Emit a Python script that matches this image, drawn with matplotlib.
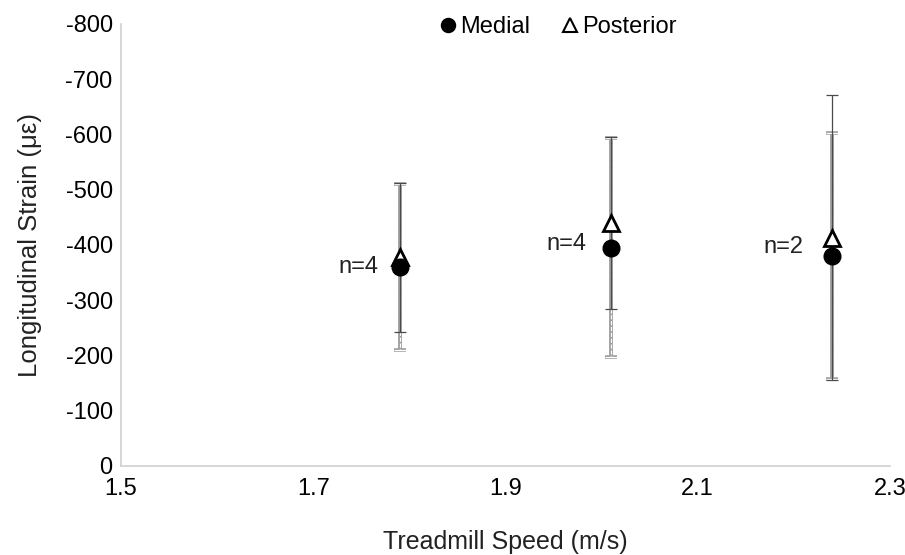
import matplotlib
matplotlib.use("Agg")
import matplotlib.pyplot as plt

plt.rcParams["font.family"] = ["Liberation Sans", "DejaVu Sans"]
plt.rcParams["axes.unicode_minus"] = False

speed = [1.79, 2.01, 2.24]
n_labels = ["n=4", "n=4", "n=2"]
n_label_x = [1.768, 1.984, 2.21]
n_label_y = [-360, -402, -396]

medial_mean = [-360, -395, -380]
medial_sd = [150, 198, 222]
posterior_mean = [-378, -440, -413]
posterior_sd = [135, 155, 258]

FS = 17

fig = plt.figure(figsize=(9.05, 5.55), dpi=100)
ax = fig.add_axes([0.1337, 0.1604, 0.8497, 0.7964])

# posterior: thin dark error bars, open triangles
ax.errorbar(speed, posterior_mean, yerr=posterior_sd, fmt="none",
            ecolor="#4a4a4a", elinewidth=0.9, capsize=4.5, capthick=0.9, zorder=3)
# medial: grey dashed double-line error bars
ax.errorbar(speed, medial_mean, yerr=medial_sd, fmt="none",
            ecolor="#a0a0a0", elinewidth=2.8, capsize=4.5, capthick=2.6,
            linestyle="--", zorder=2)
eb = ax.errorbar(speed, medial_mean, yerr=medial_sd, fmt="none",
                 ecolor="white", elinewidth=0.8, capsize=4.5, capthick=0.8, zorder=2.5)
for c in eb[2]:
    c.set_linestyle("--")

ax.plot(speed, posterior_mean, linestyle="none", marker="^", markersize=12,
        markerfacecolor="white", markeredgecolor="black", markeredgewidth=2,
        label="Posterior", zorder=4)
ax.plot(speed, medial_mean, linestyle="none", marker="o", markersize=12,
        color="black", label="Medial", zorder=5)

for x, y, t in zip(n_label_x, n_label_y, n_labels):
    ax.text(x, y, t, ha="right", va="center", fontsize=FS, color="#222222")

ax.set_xlim(1.5, 2.3)
ax.set_ylim(0, -800)
ax.set_xticks([1.5, 1.7, 1.9, 2.1, 2.3])
ax.set_xticklabels(["1.5", "1.7", "1.9", "2.1", "2.3"])
ax.set_yticks(range(0, -801, -100))
ax.tick_params(length=0, labelsize=FS, colors="#000000")
ax.tick_params(axis="x", pad=9)
ax.tick_params(axis="y", pad=6)

for s in ["top", "right"]:
    ax.spines[s].set_visible(False)
for s in ["left", "bottom"]:
    ax.spines[s].set_color("#d0d0d0")
    ax.spines[s].set_linewidth(1.2)

ax.set_xlabel("Treadmill Speed (m/s)", fontsize=18, color="#222222", labelpad=21)
ax.set_ylabel("Longitudinal Strain (\u03bc\u03b5)", fontsize=18.5, color="#222222", labelpad=17)

h, l = ax.get_legend_handles_labels()
leg = ax.legend(h[::-1], l[::-1], loc="upper center", bbox_to_anchor=(0.566, 1.065),
                ncol=2, frameon=False, fontsize=FS, handletextpad=0.0,
                columnspacing=1.2, markerscale=0.8, handlelength=1.0)
for lh in leg.legend_handles:
    lh.set_markeredgewidth(1.5)

fig.savefig("out.png", dpi=100, facecolor="white")
